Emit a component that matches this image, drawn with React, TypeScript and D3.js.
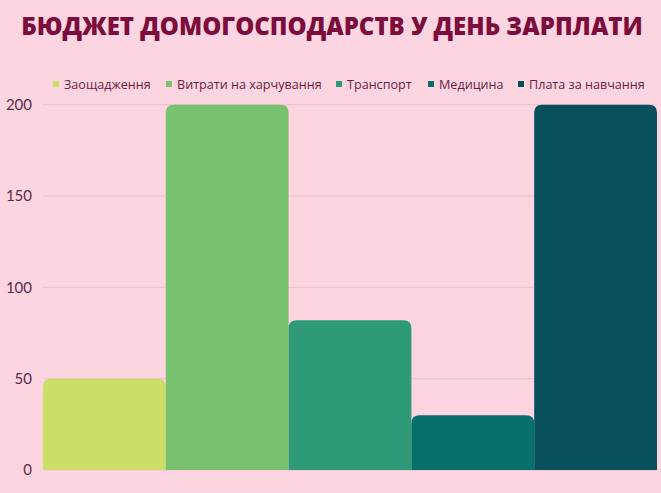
import React from "react";
import * as d3 from "d3";

const title = "БЮДЖЕТ ДОМОГОСПОДАРСТВ У ДЕНЬ ЗАРПЛАТИ";
const categories = ["Заощадження", "Витрати на харчування", "Транспорт", "Медицина", "Плата за навчання"];
const values = [50, 200, 82, 30, 200];
const colors = ["#cbdf66", "#77c16f", "#2f9a78", "#06706a", "#064f5b"];
const yTicks = [0, 50, 100, 150, 200];
const legendX = [53, 166, 336, 428, 518];

const W = 661;
const H = 493;

function topRounded(x: number, y: number, w: number, h: number, r: number) {
  const rr = Math.min(r, h, w / 2);
  const p = d3.path();
  p.moveTo(x, y + h);
  p.lineTo(x, y + rr);
  p.quadraticCurveTo(x, y, x + rr, y);
  p.lineTo(x + w - rr, y);
  p.quadraticCurveTo(x + w, y, x + w, y + rr);
  p.lineTo(x + w, y + h);
  p.closePath();
  return p.toString();
}

export default function App() {
  const x = d3.scaleBand<string>().domain(categories).range([43, 657]).padding(0);
  const y = d3.scaleLinear().domain([0, 200]).range([470, 104.7]);
  return (
    <svg width={W} height={H} style={{ position: "absolute", left: 0, top: 0, display: "block" }}>
      <rect x={0} y={0} width={W} height={H} fill="#fcd5e0" />
      <text
        x={332}
        y={35}
        textAnchor="middle"
        fontFamily="'Open Sans', sans-serif"
        fontWeight={800}
        fontSize={24}
        fill="#7c0c3c"
      >
        {title}
      </text>
      {categories.map((c, i) => (
        <g key={c} transform={`translate(${legendX[i]},84)`}>
          <rect x={0} y={-3} width={6} height={6} fill={colors[i]} />
          <text x={11} y={4.5} fontFamily="'Open Sans', sans-serif" fontSize={12.6} fill="#6b1d42">
            {c}
          </text>
        </g>
      ))}
      {yTicks.map((t) => (
        <g key={t}>
          <line x1={43} x2={657} y1={y(t)} y2={y(t)} stroke="#ecbfcc" strokeWidth={1} />
          <text
            x={32}
            y={y(t)}
            dy="0.35em"
            textAnchor="end"
            fontFamily="Lato, sans-serif"
            fontSize={15}
            fill="#5e2a47"
          >
            {t}
          </text>
        </g>
      ))}
      {categories.map((c, i) => (
        <path
          key={c}
          d={topRounded(x(c)!, y(values[i]), x.bandwidth(), y(0) - y(values[i]), 8)}
          fill={colors[i]}
        />
      ))}
    </svg>
  );
}
